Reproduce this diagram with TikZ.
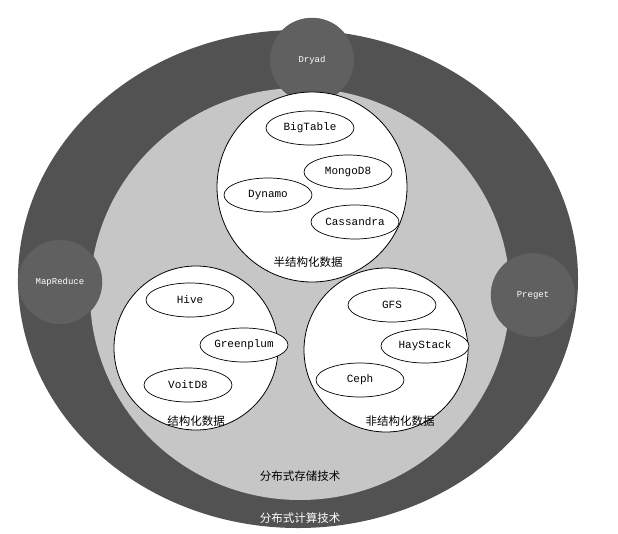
\documentclass[tikz,border=0pt]{standalone}
\usetikzlibrary{shapes.geometric}
\usepackage{fontspec}
\setmonofont{Liberation Mono}
\newfontfamily\cjk{Noto Sans CJK SC}
\begin{document}
\begin{tikzpicture}[x=1pt,y=-1pt,
  sat/.style={circle,draw=gray!70!black,fill=gray!75!black,minimum size=84pt,inner sep=0pt,font=\ttfamily\small,text=white},
  grp/.style={circle,draw=black,line width=0.8pt,fill=white,inner sep=0pt},
  item/.style={ellipse,draw=black,line width=0.7pt,fill=white,minimum width=88pt,minimum height=34pt,inner sep=0pt,font=\ttfamily\fontsize{11}{13}\selectfont},
  lab/.style={font=\cjk\fontsize{11.5}{13}\selectfont}]
\useasboundingbox (0,0) rectangle (618,533);
\fill[white] (0,0) rectangle (618,533);
\fill[gray!40!black!85] (298,279) ellipse [x radius=280, y radius=249];
\fill[gray!45] (300,294) ellipse [x radius=210, y radius=206];
\node[sat] (dryad) at (312,60) {Dryad};
\node[sat] (mr) at (60,282) {MapReduce};
\node[sat] (pg) at (533,295) {Preget};
\node[grp,minimum size=190pt] (semi) at (312,187) {};
\node[grp,minimum size=164pt] (str) at (196,348) {};
\node[grp,minimum size=164pt] (uns) at (386,350) {};
\node[item] (bt) at (310,128) {BigTable};
\node[item] (mg) at (348,172) {MongoD8};
\node[item] (dy) at (268,195) {Dynamo};
\node[item] (ca) at (355,222) {Cassandra};
\node[lab] (l1) at (308,262) {半结构化数据};
\node[item] (hv) at (190,300) {Hive};
\node[item] (gp) at (244,345) {Greenplum};
\node[item] (vd) at (188,385) {VoitD8};
\node[lab] (l2) at (196,421) {结构化数据};
\node[item] (gfs) at (392,305) {GFS};
\node[item] (hs) at (425,346) {HayStack};
\node[item] (ce) at (360,380) {Ceph};
\node[lab] (l3) at (400,421) {非结构化数据};
\node[lab] (l4) at (300,476) {分布式存储技术};
\node[lab,text=white] (l5) at (300,518) {分布式计算技术};
\end{tikzpicture}
\end{document}
